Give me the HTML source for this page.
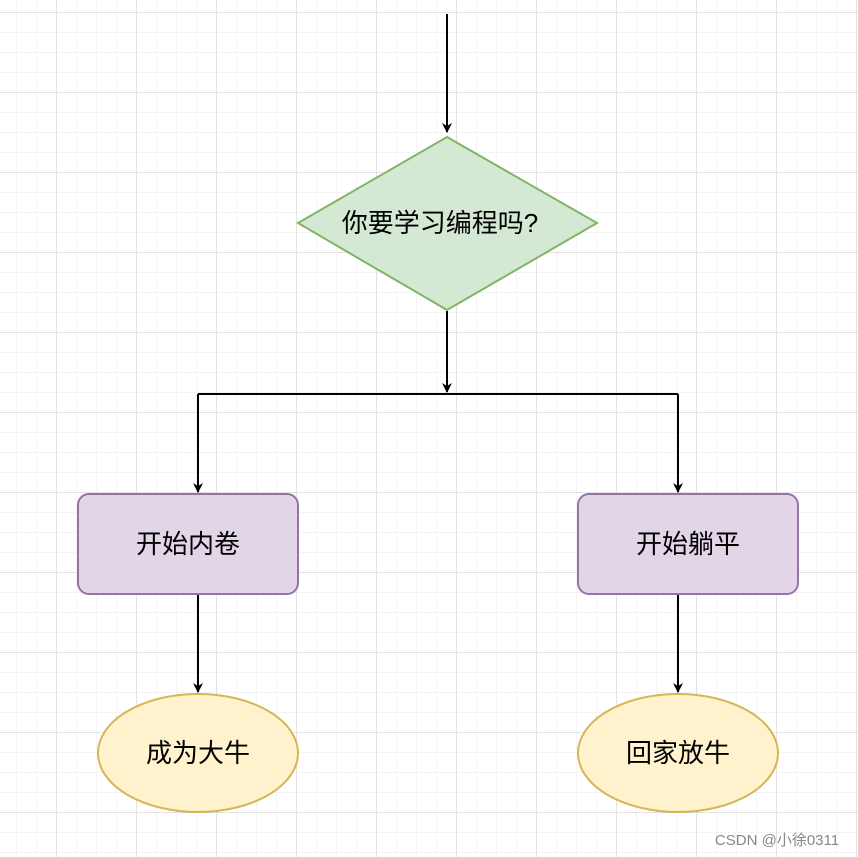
<!DOCTYPE html>
<html><head><meta charset="utf-8"><style>
html,body{margin:0;padding:0;background:#fff;}
</style></head><body>
<svg width="858" height="857" xmlns="http://www.w3.org/2000/svg" style="display:block">
<defs>
<pattern id="minor" width="20" height="20" patternUnits="userSpaceOnUse" x="-3" y="-7">
<path d="M20 0V20M0 20H20" stroke="#f0f0f0" stroke-width="1.5" fill="none"/>
</pattern>
<pattern id="major" width="80" height="80" patternUnits="userSpaceOnUse" x="-23" y="-67">
<path d="M80 0V80M0 80H80" stroke="#cfcfcf" stroke-width="1" fill="none"/>
</pattern>
<marker id="ar" markerWidth="10" markerHeight="10" refX="9" refY="5" orient="auto" markerUnits="userSpaceOnUse">
<path d="M0,0 L10,5 L0,10 L3,5 Z" fill="#000"/>
</marker>
</defs>
<rect width="858" height="857" fill="url(#minor)"/>
<rect width="858" height="857" fill="url(#major)"/>
<g stroke="#000" stroke-width="2" fill="none">
<path d="M447 14V132" marker-end="url(#ar)"/>
<path d="M447 311V392" marker-end="url(#ar)"/>
<path d="M198 394H678"/>
<path d="M198 394V492" marker-end="url(#ar)"/>
<path d="M678 394V492" marker-end="url(#ar)"/>
<path d="M198 594V692" marker-end="url(#ar)"/>
<path d="M678 594V692" marker-end="url(#ar)"/>
</g>
<polygon points="447,137 597,223 447,310 298,223" fill="#d5e8d4" stroke="#82b366" stroke-width="2"/>
<rect x="78" y="494" width="220" height="100" rx="11" fill="#e1d5e7" stroke="#9673a6" stroke-width="2"/>
<rect x="578" y="494" width="220" height="100" rx="11" fill="#e1d5e7" stroke="#9673a6" stroke-width="2"/>
<ellipse cx="198" cy="753" rx="100" ry="59" fill="#fff2cc" stroke="#d6b656" stroke-width="2"/>
<ellipse cx="678" cy="753" rx="100" ry="59" fill="#fff2cc" stroke="#d6b656" stroke-width="2"/>
<g font-family="Liberation Sans, Noto Sans CJK SC, sans-serif" font-size="26" text-anchor="middle" fill="#000">
<text x="440" y="232">你要学习编程吗?</text>
<text x="188" y="553">开始内卷</text>
<text x="688" y="553">开始躺平</text>
<text x="198" y="762">成为大牛</text>
<text x="678" y="762">回家放牛</text>
</g>
<text x="777" y="845" font-family="Liberation Sans, Noto Sans CJK SC, sans-serif" font-size="15" fill="#888" text-anchor="middle">CSDN @小徐0311</text>
</svg>
</body></html>
